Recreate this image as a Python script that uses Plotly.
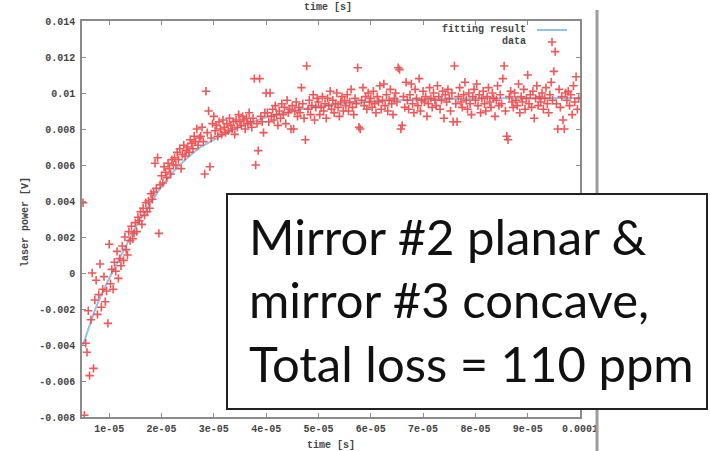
import numpy as np
import plotly.graph_objects as go

# Photodiode trace: laser power sampled every 0.25 us starting at 5 us (values in mV)
t_start_us = 5.0
t_step_us = 0.25
power_mV = [
    3.9, -7.9, -3.9, -4.4, -2.1, -5.7, -2.6, 0.0, -5.3, -1.5,
    -0.4, -2.3, -1.2, 0.5, -1.9, -0.9, -0.2, -1.6, -1.0, -2.8,
    1.6, -0.6, 0.2, -0.9, 0.6, 0.1, 1.2, -0.3, 0.8, 0.4,
    1.5, 0.7, 2.0, 1.3, 1.0, 2.3, 1.8, 2.6, 1.9, 2.2,
    2.8, 2.3, 3.1, 2.9, 3.4, 2.7, 3.6, 3.2, 3.9, 3.4,
    4.0, 3.6, 4.4, 4.1, 4.5, 6.1, 4.7, 6.4, 2.2, 4.9,
    5.4, 5.0, 5.9, 5.6, 5.3, 6.1, 5.8, 5.5, 6.3, 6.0,
    6.4, 6.0, 6.7, 6.3, 6.9, 5.8, 6.6, 7.1, 6.5, 6.8,
    7.0, 6.7, 7.4, 7.2, 6.9, 7.6, 7.3, 8.0, 7.1, 7.5,
    7.6, 8.1, 7.3, 5.5, 10.1, 7.8, 9.0, 5.9, 7.5, 8.3,
    8.7, 7.9, 8.2, 7.6, 8.4, 8.0, 7.7, 8.5, 8.1, 7.8,
    8.3, 7.9, 8.6, 8.2, 8.0, 8.4, 7.7, 8.5, 8.1, 8.8,
    8.4, 8.2, 8.7, 8.5, 8.0, 8.6, 8.3, 8.9, 8.4, 8.1,
    8.6, 10.8, 6.0, 8.3, 6.8, 10.8, 8.7, 8.4, 7.8, 8.9,
    10.0, 8.9, 8.4, 10.0, 8.7, 9.1, 8.5, 9.3, 8.8, 8.2,
    9.0, 8.6, 9.4, 8.8, 9.2, 8.3, 9.6, 8.9, 9.1, 8.0,
    9.3, 8.0, 9.0, 9.5, 8.7, 9.2, 8.9, 10.3, 9.4, 8.6,
    7.4, 11.5, 9.1, 9.6, 8.8, 9.3, 9.9, 8.5, 9.2, 9.7,
    9.5, 8.8, 9.2, 9.8, 9.0, 9.4, 8.6, 9.7, 9.3, 10.1,
    9.1, 9.6, 8.9, 9.4, 10.0, 9.2, 8.7, 9.5, 9.8, 9.0,
    9.6, 9.3, 9.9, 9.0, 9.5, 10.2, 9.2, 8.8, 9.7, 9.4,
    11.4, 8.1, 8.0, 9.6, 10.3, 9.3, 9.8, 9.1, 10.0, 9.5,
    9.7, 9.2, 10.1, 9.4, 8.9, 9.8, 9.5, 10.4, 9.1, 9.6,
    10.5, 9.3, 9.9, 9.0, 9.6, 10.2, 9.4, 8.8, 9.7, 10.0,
    9.5, 11.4, 11.3, 8.0, 8.2, 9.8, 9.2, 10.6, 9.6, 9.1,
    9.9, 10.5, 9.4, 8.9, 10.2, 9.7, 9.3, 10.8, 9.0, 9.6,
    10.1, 9.5, 9.8, 8.7, 9.4, 10.3, 9.7, 9.2, 10.0, 9.6,
    9.3, 10.4, 9.8, 9.1, 9.6, 10.1, 8.6, 9.9, 9.5, 10.2,
    9.7, 9.0, 10.0, 8.4, 11.5, 9.4, 8.4, 9.8, 10.3, 9.5,
    9.2, 9.9, 10.6, 9.6, 9.1, 10.0, 9.4, 8.8, 9.8, 10.2,
    9.6, 10.5, 9.3, 9.9, 8.9, 9.7, 10.1, 9.4, 9.0, 9.8,
    10.3, 9.5, 9.2, 10.0, 9.7, 8.7, 9.6, 10.4, 9.3, 9.9,
    9.4, 10.8, 11.5, 9.0, 7.6, 7.4, 9.8, 10.1, 9.5, 9.2,
    10.0, 9.6, 9.3, 10.5, 8.9, 9.8, 9.5, 10.2, 9.1, 9.7,
    11.0, 9.4, 9.9, 9.2, 10.1, 8.6, 9.7, 10.4, 9.3, 9.8,
    9.5, 10.0, 9.1, 9.7, 10.3, 9.4, 8.9, 9.9, 10.6, 9.6,
    11.2, 12.3, 9.4, 8.0, 10.2, 9.2, 9.8, 8.5, 8.0, 10.0,
    9.6, 10.1, 9.3, 9.9, 8.8, 10.4, 9.5, 10.9, 9.1, 9.7,
]

# Fitted exponential build-up, sampled along the curve
fit_time_us = [5, 7.5, 10, 12.5, 15, 17.5, 20, 22.5, 25, 27.5, 30, 35, 40,
               45, 50, 55, 60, 70, 80, 90, 100]
fit_power_mV = [-4.0, -1.9, -0.3, 1.1, 2.5, 3.7, 4.8, 5.7, 6.4, 7.0, 7.4, 8.1,
                8.65, 9.0, 9.25, 9.42, 9.53, 9.64, 9.69, 9.71, 9.72]

x_tick_vals = [1e-05, 2e-05, 3e-05, 4e-05, 5e-05, 6e-05, 7e-05, 8e-05, 9e-05, 1e-04]
x_tick_text = ["1e-05", "2e-05", "3e-05", "4e-05", "5e-05", "6e-05", "7e-05",
               "8e-05", "9e-05", "0.0001"]
y_tick_vals = [-0.008, -0.006, -0.004, -0.002, 0, 0.002, 0.004, 0.006, 0.008,
               0.010, 0.012, 0.014]
y_tick_text = ["-0.008", "-0.006", "-0.004", "-0.002", "0", "0.002", "0.004",
               "0.006", "0.008", "0.01", "0.012", "0.014"]

note_lines = ["Mirror #2 planar &", "mirror #3 concave,", "Total loss = 110 ppm"]

time_s = (t_start_us + t_step_us * np.arange(len(power_mV))) * 1e-6
power_V = np.array(power_mV) / 1000.0
fit_t = np.array(fit_time_us) * 1e-6
fit_p = np.array(fit_power_mV) / 1000.0

W, H = 710, 451
L, R, T, B = 82, 130, 21, 34
pw, ph = W - L - R, H - T - B


def px(xp):
    return (xp - L) / pw


def py(yp):
    return (H - B - yp) / ph


mono = dict(family="Liberation Mono", size=10, color="#444444", weight="bold")
red = "#f04545"
blue = "#8fc3ec"

fig = go.Figure()
fig.add_trace(go.Scatter(
    x=fit_t, y=fit_p, mode="lines", name=" ", legend="legend",
    line=dict(color=blue, width=2, shape="spline", smoothing=0.6),
))
fig.add_trace(go.Scatter(
    x=time_s, y=power_V, mode="markers", name=" ", legend="legend2",
    marker=dict(symbol="cross-thin", size=6, color=red,
                line=dict(color=red, width=1.6)),
    opacity=0.9, cliponaxis=True,
))

axis_common = dict(
    showgrid=False, zeroline=False, showline=True, linecolor="#8a8a8a",
    linewidth=1.5, mirror="ticks", ticks="inside", ticklen=4,
    tickcolor="#8a8a8a", tickwidth=1, tickfont=mono,
)

fig.update_layout(
    width=W, height=H,
    margin=dict(l=L, r=R, t=T, b=B, pad=0),
    paper_bgcolor="white", plot_bgcolor="white",
    xaxis=dict(range=[4.8e-06, 1e-04], tickvals=x_tick_vals,
               ticktext=x_tick_text, ticklabelstandoff=1, **axis_common),
    yaxis=dict(range=[-0.008, 0.014], tickvals=y_tick_vals,
               ticktext=y_tick_text, ticklabelstandoff=3, **axis_common),
    legend=dict(x=px(532), xanchor="left", y=py(30), yanchor="middle",
                bgcolor="rgba(0,0,0,0)", borderwidth=0, font=mono,
                itemwidth=30),
    legend2=dict(x=px(532), xanchor="left", y=py(42), yanchor="middle",
                 bgcolor="rgba(0,0,0,0)", borderwidth=0, font=mono,
                 itemwidth=30),
    showlegend=True,
)

annotations = [
    dict(text="fitting result", x=px(528), y=py(30), xanchor="right",
         yanchor="middle", font=mono),
    dict(text="data", x=px(528), y=py(42), xanchor="right",
         yanchor="middle", font=mono),
    dict(text="time [s]", x=px(331), y=py(445), xanchor="center",
         yanchor="middle", font=mono),
    dict(text="time [s]", x=px(328), y=py(0), xanchor="center",
         yanchor="top", font=mono),
    dict(text="laser power [V]", x=px(25), y=py(222), xanchor="center",
         yanchor="middle", textangle=-90, font=mono),
]
for i, line in enumerate(note_lines):
    annotations.append(dict(
        text=line, x=px(247), y=py([236.0, 299.0, 363.0][i]), xanchor="left",
        yanchor="middle", font=dict(family="Lato", size=49, color="#111111"),
    ))
for a in annotations:
    a.update(xref="paper", yref="paper", showarrow=False)
fig.update_layout(annotations=annotations)

# slide divider and the caption box laid over the plot
fig.add_shape(type="line", xref="paper", yref="paper",
              x0=px(597), x1=px(597), y0=py(10), y1=py(451),
              line=dict(color="#9e9e9e", width=3), layer="above")
fig.add_shape(type="rect", xref="paper", yref="paper",
              x0=px(227), x1=px(707), y0=py(409), y1=py(194),
              line=dict(color="#222222", width=2), fillcolor="white",
              layer="above")

fig.write_html("out.html")
